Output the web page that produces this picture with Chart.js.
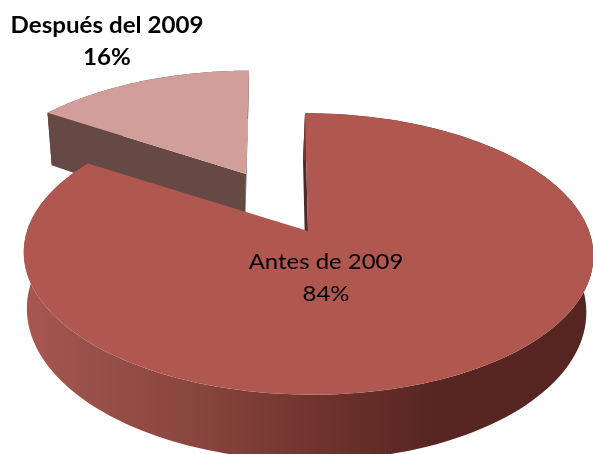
<!DOCTYPE html>
<html><head><meta charset="utf-8">
<style>html,body{margin:0;padding:0;background:#fff}canvas{display:block}</style>
<script src="https://cdn.jsdelivr.net/npm/chart.js@4"></script>
</head><body>
<canvas id="c" width="593" height="454"></canvas>
<script>
const categories = ['Antes de 2009', 'Después del 2009'];
const shares = [84, 16];
const topColors = ['#B0574F', '#D29E9A'];

// Projections of each slice's plane to the page (perspective view)
const views = [
  {top:{cx:308,cy:231,a:281,b:137,k:.163,s:3.5}, low:{cx:306,cy:286,a:276,b:146,k:.163,s:3.5}},
  {top:{cx:246,cy:174,a:270,b:130,k:.258,s:-3.8}, low:{cx:245,cy:232,a:263,b:142,k:.258,s:-3.8}}
];
const labelStyle = [
  {x:326, y:[269,301], font:'22px Lato', sx:1.088},
  {x:107, y:[33,65],   font:'bold 22px Lato', sx:1.097}
];
function proj(p, ang, r){
  const u = r*Math.cos(ang), v = r*Math.sin(ang), w = 1 - p.k*v;
  return [p.cx + (p.a*u + p.s*v)/w, p.cy + p.b*v/w];
}
function arcPts(p, a0, a1){
  const n = 160, out = [];
  for(let i=0;i<=n;i++) out.push(proj(p, a0+(a1-a0)*i/n, 1));
  return out;
}
function poly(ctx, pts){ ctx.beginPath(); pts.forEach((q,i)=> i?ctx.lineTo(q[0],q[1]):ctx.moveTo(q[0],q[1])); ctx.closePath(); }

const pie3d = {
  id:'pie3d',
  beforeDatasetDraw(chart){
    const ctx = chart.ctx, arcs = chart.getDatasetMeta(0).data;
    ctx.save();
    ctx.filter = 'blur(0.4px)';
    [1,0].forEach(i=>{
      const el = arcs[i], st = el.startAngle, en = el.endAngle, v = views[i];
      const topArc = arcPts(v.top, st, en), lowArc = arcPts(v.low, st, en);
      if(i===0){
        ctx.fillStyle = '#4A2A28';
        poly(ctx,[proj(v.top,st,1),proj(v.top,st,0),proj(v.low,st,0),proj(v.low,st,1)]); ctx.fill();
        const g = ctx.createLinearGradient(25,0,593,0);
        g.addColorStop(0,'#A8574E'); g.addColorStop(.12,'#98504A'); g.addColorStop(.3,'#8A453E');
        g.addColorStop(.52,'#6F332D'); g.addColorStop(.72,'#572622'); g.addColorStop(1,'#552521');
        ctx.fillStyle = g;
      } else {
        ctx.fillStyle = '#664845';
        poly(ctx,[proj(v.top,st,1),proj(v.top,st,0),proj(v.low,st,0),proj(v.low,st,1)]); ctx.fill();
        poly(ctx,[proj(v.top,en,1),proj(v.top,en,0),proj(v.low,en,0),proj(v.low,en,1)]); ctx.fill();
      }
      poly(ctx, topArc.concat(lowArc.slice().reverse())); ctx.fill();
      ctx.fillStyle = el.options.backgroundColor;
      poly(ctx, [proj(v.top,st,0)].concat(topArc)); ctx.fill();
    });
    ctx.restore();
    return false;
  },
  afterDatasetsDraw(chart){
    const ctx = chart.ctx, total = shares.reduce((a,b)=>a+b,0);
    categories.forEach((name,i)=>{
      const s = labelStyle[i];
      ctx.save();
      ctx.filter = 'blur(0.35px)';
      ctx.fillStyle = '#000'; ctx.textAlign = 'center'; ctx.textBaseline = 'alphabetic';
      ctx.font = s.font;
      ctx.translate(s.x, 0); ctx.scale(s.sx, 1);
      ctx.fillText(name, 0, s.y[0]);
      ctx.fillText(Math.round(shares[i]/total*100)+'%', 0, s.y[1]);
      ctx.restore();
    });
  }
};

new Chart(document.getElementById('c'), {
  type:'pie',
  data:{labels:categories, datasets:[{data:shares, backgroundColor:topColors, borderWidth:0}]},
  options:{responsive:false, animation:false, plugins:{legend:{display:false}, tooltip:{enabled:false}}},
  plugins:[pie3d]
});
</script>
</body></html>
